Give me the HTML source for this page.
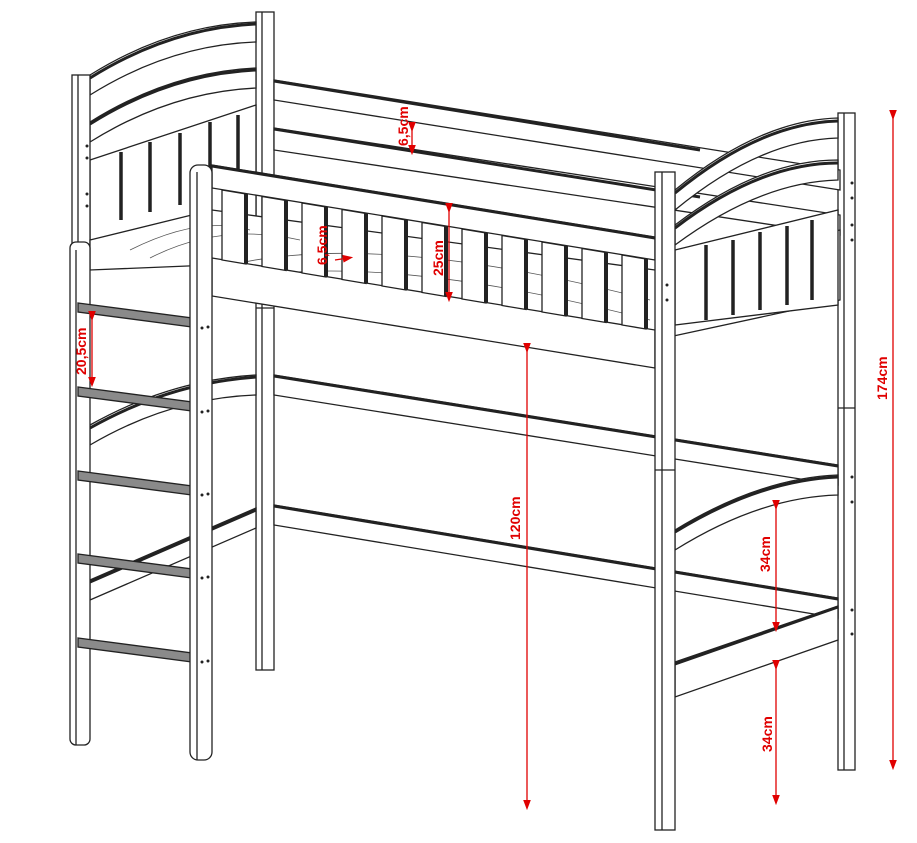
<!DOCTYPE html>
<html><head><meta charset="utf-8"><style>
html,body{margin:0;padding:0;background:#fff;}
svg{display:block;}
text{font-family:"Liberation Sans",Arial,sans-serif;font-weight:bold;fill:#e00000;font-size:14px;}
</style></head><body>
<svg width="917" height="843" viewBox="0 0 917 843" xmlns="http://www.w3.org/2000/svg">
<defs>
<marker id="a" markerWidth="8" markerHeight="8" refX="4" refY="4" orient="auto"><path d="M0,1 L8,4 L0,7 z" fill="#e00000"/></marker>
</defs>
<g fill="#fff" stroke="#222" stroke-width="1.3">
<rect x="256" y="12" width="18" height="658"/>
<line x1="262" y1="12" x2="262" y2="670"/>
<rect x="838" y="113" width="17" height="657"/>
<line x1="844" y1="113" x2="844" y2="770"/>
<path d="M90,75 Q170,25 256,22 L256,42 Q170,45 90,95 Z"/>
<path d="M90,122 Q170,72 256,68 L256,88 Q170,92 90,142 Z"/>
<path d="M90,160 L256,105 L256,230 L90,240 Z"/>
<g stroke-width="3.5"><line x1="121" y1="152" x2="121" y2="220"/><line x1="150" y1="142" x2="150" y2="212"/><line x1="180" y1="133" x2="180" y2="205"/><line x1="210" y1="122" x2="210" y2="200"/><line x1="238" y1="115" x2="238" y2="200"/></g>
<path d="M90,78 Q170,28 256,24" fill="none" stroke-width="3"/>
<path d="M90,124 Q170,74 256,70" fill="none" stroke-width="3"/>
<rect x="72" y="75" width="18" height="170"/>
<line x1="78" y1="75" x2="78" y2="245"/>
<path d="M274,80 L840,170 L840,190 L274,100 Z"/>
<path d="M274,128 L840,215 L840,235 L274,150 Z"/>
<line x1="274" y1="81" x2="700" y2="150" stroke-width="3"/>
<line x1="274" y1="129" x2="700" y2="197" stroke-width="3"/>
<path d="M90,240 L212,210 L655,270 L840,230 L840,300 L655,340 L212,265 L90,270 Z"/>
<g stroke="#555" stroke-width="0.8" fill="none">
<path d="M130,250 Q200,215 250,230 M150,258 Q220,222 300,240 M230,265 Q380,230 650,300 M230,280 Q380,250 650,320 M680,290 Q760,250 838,280 M680,270 Q760,240 838,260"/>
</g>
<path d="M675,190 Q760,120 838,118 L838,138 Q760,140 675,210 Z"/>
<path d="M675,225 Q760,160 838,160 L838,180 Q760,182 675,245 Z"/>
<path d="M675,250 L838,210 L838,305 L675,325 Z"/>
<g stroke-width="3.5"><line x1="706" y1="245" x2="706" y2="320"/><line x1="733" y1="240" x2="733" y2="315"/><line x1="760" y1="232" x2="760" y2="310"/><line x1="787" y1="226" x2="787" y2="305"/><line x1="812" y1="220" x2="812" y2="300"/></g>
<path d="M675,193 Q760,123 838,121" fill="none" stroke-width="3"/>
<path d="M675,228 Q760,163 838,163" fill="none" stroke-width="3"/>
<path d="M274,375 L838,465 L838,485 L274,395 Z"/>
<line x1="274" y1="376" x2="838" y2="466" stroke-width="3"/>
<path d="M274,505 L838,598 L838,618 L274,525 Z"/>
<line x1="274" y1="506" x2="838" y2="599" stroke-width="3"/>
<path d="M90,425 Q170,380 256,375 L256,395 Q170,398 90,445 Z"/>
<path d="M90,428 Q170,383 256,377" fill="none" stroke-width="3"/>
<path d="M90,580 L256,508 L256,528 L90,600 Z"/>
<line x1="90" y1="582" x2="256" y2="510" stroke-width="3"/>
<path d="M675,530 Q760,478 838,475 L838,495 Q760,497 675,550 Z"/>
<path d="M675,532 Q760,480 838,477" fill="none" stroke-width="3"/>
<path d="M675,662 L838,606 L838,640 L675,697 Z"/>
<line x1="675" y1="664" x2="838" y2="607" stroke-width="3"/>
<path d="M212,258 L655,330 L655,368 L212,296 Z"/>
<path d="M212,165 L655,237 L655,260 L212,188 Z"/>
<line x1="212" y1="166" x2="655" y2="238" stroke-width="3"/>
<g id="sl">
<path d="M222,190 L246,194 L246,264 L222,260 Z"/>
<line x1="246" y1="194" x2="246" y2="264" stroke-width="4"/>
</g>
<use href="#sl" transform="translate(40,6.5)"/><use href="#sl" transform="translate(80,13)"/><use href="#sl" transform="translate(120,19.5)"/>
<use href="#sl" transform="translate(160,26)"/><use href="#sl" transform="translate(200,32.5)"/><use href="#sl" transform="translate(240,39)"/>
<use href="#sl" transform="translate(280,45.5)"/><use href="#sl" transform="translate(320,52)"/><use href="#sl" transform="translate(360,58.5)"/>
<use href="#sl" transform="translate(400,65)"/>
<rect x="655" y="172" width="20" height="658"/>
<line x1="662" y1="172" x2="662" y2="830"/>
<line x1="655" y1="470" x2="675" y2="470"/>
<line x1="838" y1="408" x2="855" y2="408"/>
<line x1="256" y1="308" x2="274" y2="308"/>
<rect x="70" y="242" width="20" height="503" rx="6"/>
<line x1="76" y1="250" x2="76" y2="745"/>
<g fill="#8a8a8a">
<path d="M78,303 L192,318 L192,327 L78,312 Z"/>
<path d="M78,387 L192,402 L192,411 L78,396 Z"/>
<path d="M78,471 L192,486 L192,495 L78,480 Z"/>
<path d="M78,554 L192,569 L192,578 L78,563 Z"/>
<path d="M78,638 L192,653 L192,662 L78,647 Z"/>
</g>
<rect x="190" y="165" width="22" height="595" rx="8"/>
<line x1="197" y1="172" x2="197" y2="760"/>
</g>
<g fill="#222">
<circle cx="87" cy="146" r="1.5"/><circle cx="87" cy="158" r="1.5"/><circle cx="87" cy="194" r="1.5"/><circle cx="87" cy="206" r="1.5"/>
<circle cx="202" cy="328" r="1.5"/><circle cx="208" cy="327" r="1.5"/><circle cx="202" cy="412" r="1.5"/><circle cx="208" cy="411" r="1.5"/>
<circle cx="202" cy="495" r="1.5"/><circle cx="208" cy="494" r="1.5"/><circle cx="202" cy="578" r="1.5"/><circle cx="208" cy="577" r="1.5"/>
<circle cx="202" cy="662" r="1.5"/><circle cx="208" cy="661" r="1.5"/>
<circle cx="852" cy="183" r="1.5"/><circle cx="852" cy="198" r="1.5"/><circle cx="852" cy="225" r="1.5"/><circle cx="852" cy="240" r="1.5"/>
<circle cx="852" cy="477" r="1.5"/><circle cx="852" cy="502" r="1.5"/><circle cx="852" cy="610" r="1.5"/><circle cx="852" cy="634" r="1.5"/>
<circle cx="667" cy="285" r="1.5"/><circle cx="667" cy="300" r="1.5"/>
</g>
<g stroke="#e00000" stroke-width="1.3" fill="none">
<line x1="893" y1="115" x2="893" y2="765" marker-start="url(#a)" marker-end="url(#a)"/>
<line x1="527" y1="348" x2="527" y2="805" marker-start="url(#a)" marker-end="url(#a)"/>
<line x1="776" y1="505" x2="776" y2="627" marker-start="url(#a)" marker-end="url(#a)"/>
<line x1="776" y1="665" x2="776" y2="800" marker-start="url(#a)" marker-end="url(#a)"/>
<line x1="449" y1="208" x2="449" y2="297" marker-start="url(#a)" marker-end="url(#a)"/>
<line x1="92" y1="316" x2="92" y2="382" marker-start="url(#a)" marker-end="url(#a)"/>
<line x1="412" y1="127" x2="412" y2="150" marker-start="url(#a)" marker-end="url(#a)"/>
<line x1="335" y1="260" x2="348" y2="258" marker-end="url(#a)"/>
</g>
<text transform="translate(887,400) rotate(-90)">174cm</text>
<text transform="translate(520,540) rotate(-90)">120cm</text>
<text transform="translate(770,572) rotate(-90)">34cm</text>
<text transform="translate(772,752) rotate(-90)">34cm</text>
<text transform="translate(443,276) rotate(-90)">25cm</text>
<text transform="translate(86,375) rotate(-90)">20,5cm</text>
<text transform="translate(408,146) rotate(-90)">6,5cm</text>
<text transform="translate(327,265) rotate(-90)">6,5cm</text>
</svg>
</body></html>
